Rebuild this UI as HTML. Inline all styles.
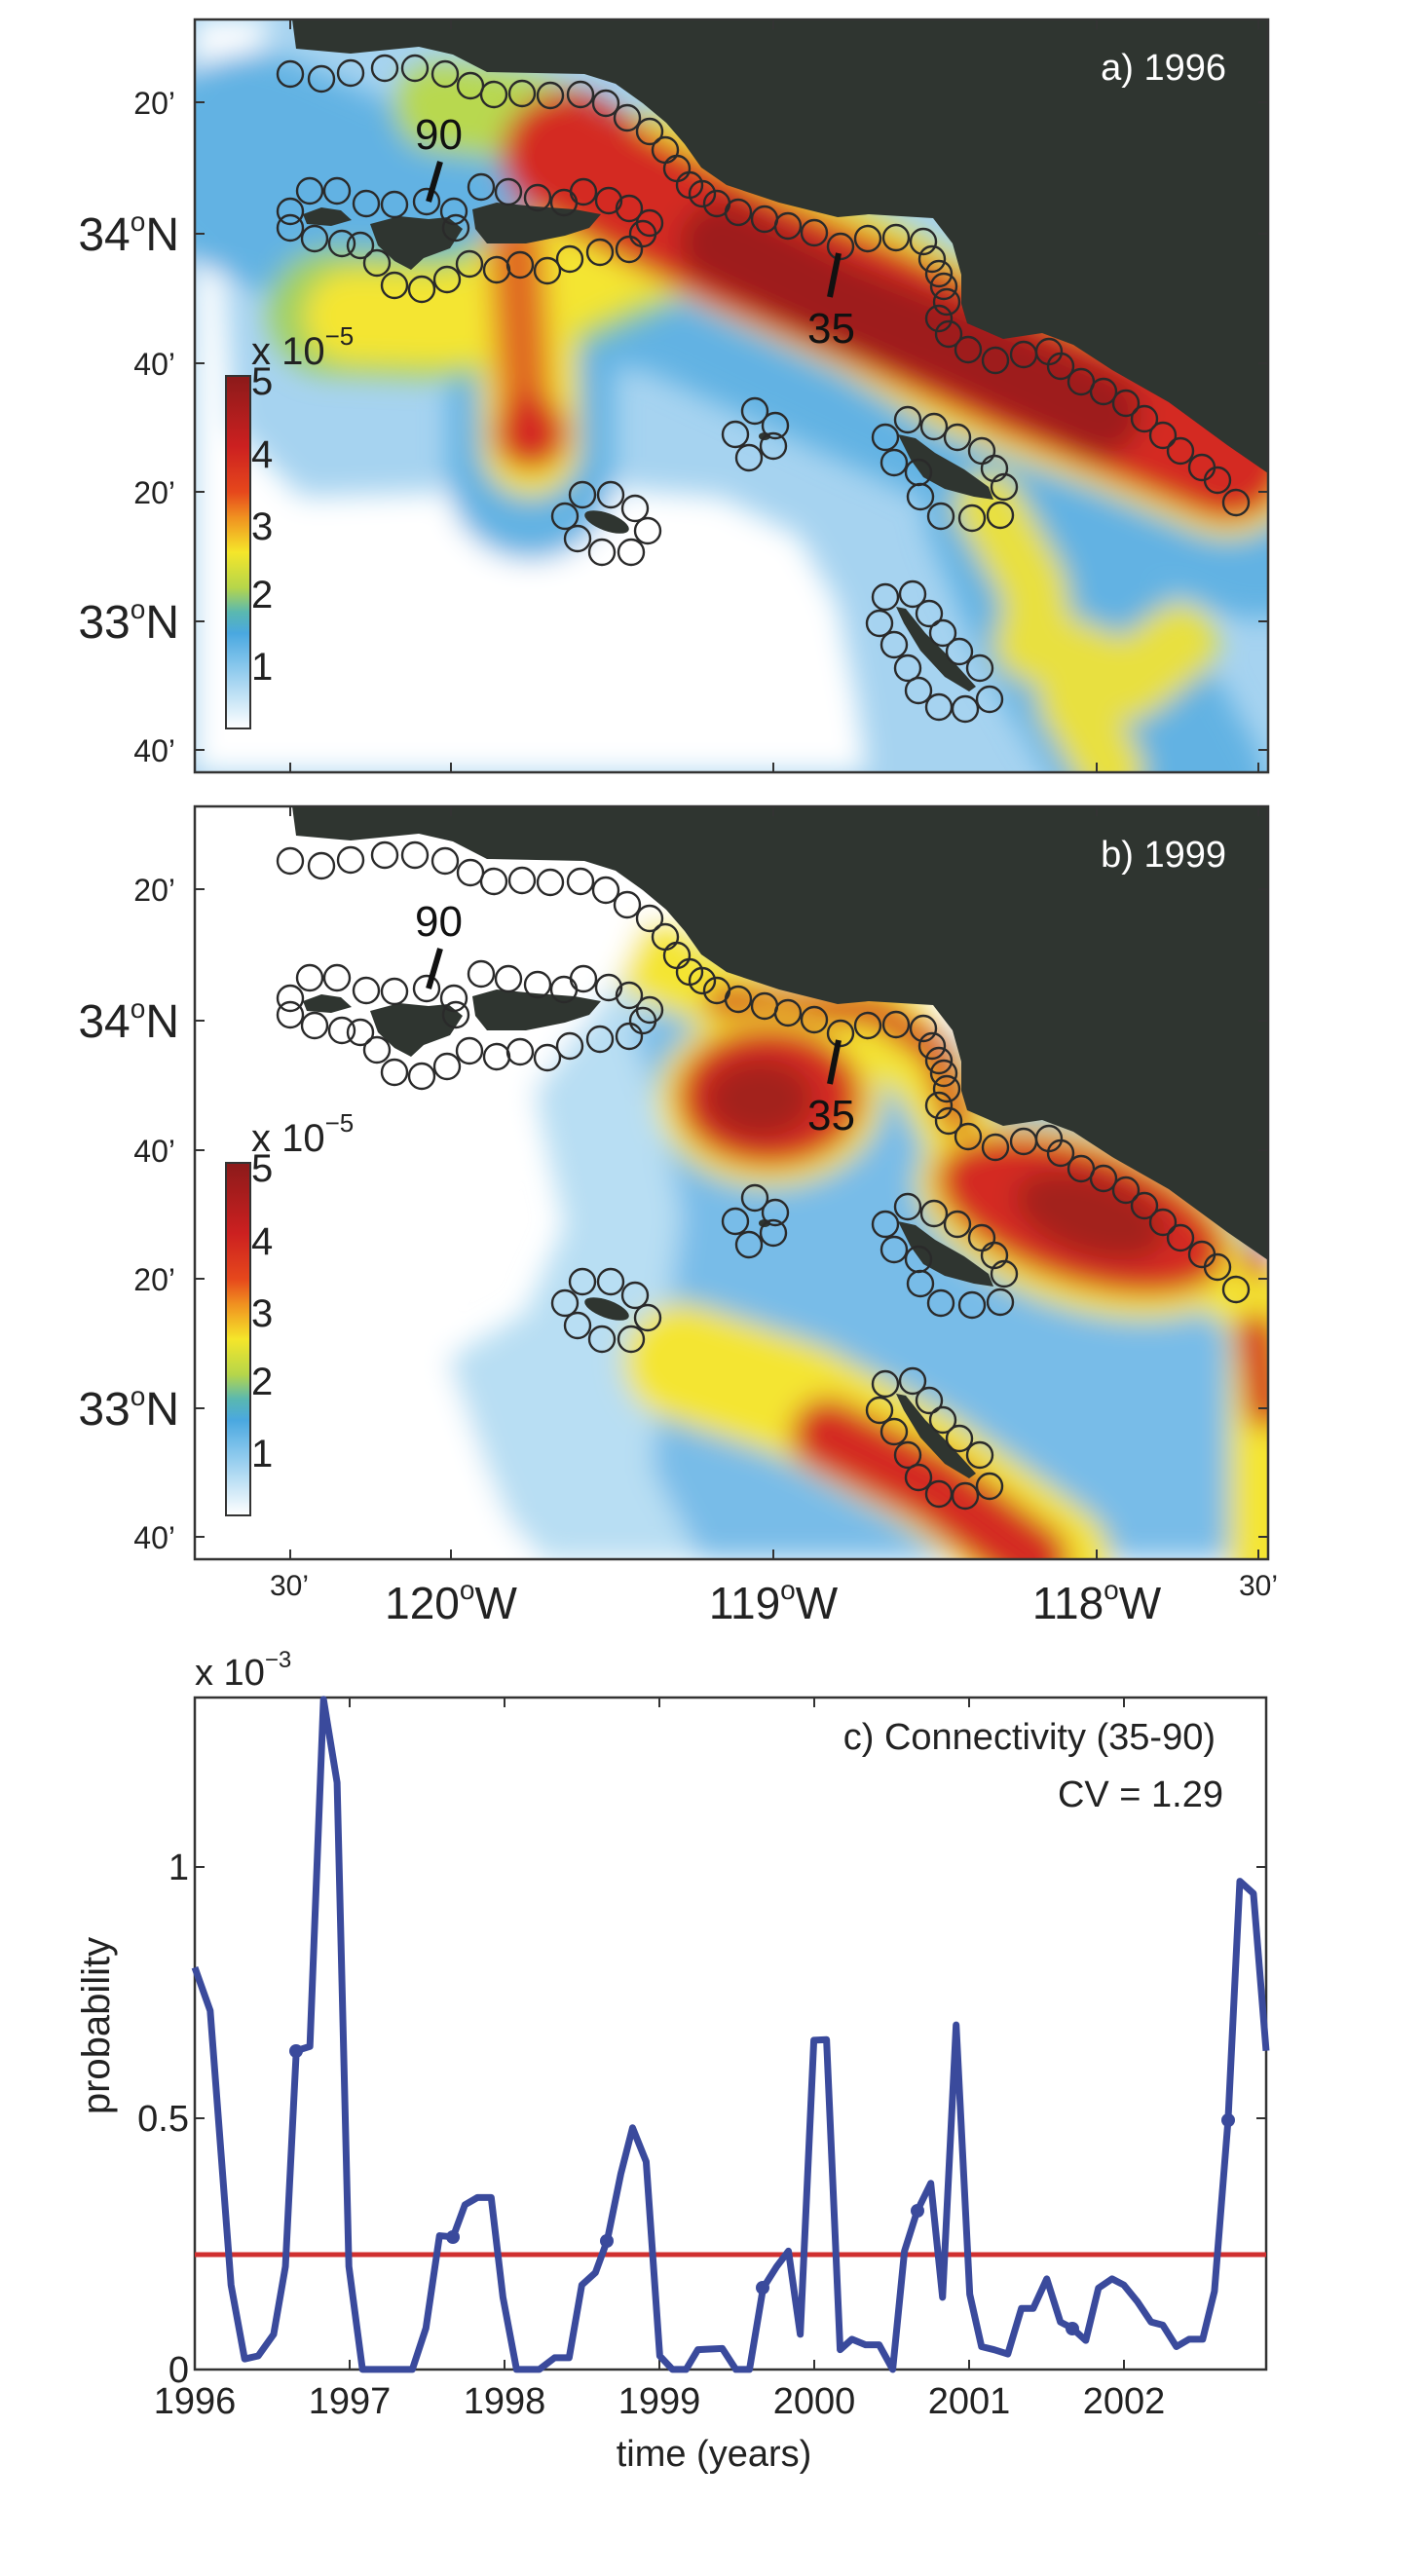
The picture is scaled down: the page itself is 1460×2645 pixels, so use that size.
<!DOCTYPE html>
<html><head><meta charset="utf-8"><style>
html,body{margin:0;padding:0;background:#fff;}
svg{display:block;}
text{font-family:"Liberation Sans",sans-serif;}
</style></head><body>
<svg width="1460" height="2645" viewBox="0 0 1460 2645" xmlns="http://www.w3.org/2000/svg">
<defs>
<clipPath id="pc"><rect x="0" y="0" width="1102" height="773"/></clipPath>
<filter id="bl" x="-20%" y="-20%" width="140%" height="140%"><feGaussianBlur stdDeviation="14"/></filter>
<linearGradient id="cb" x1="0" y1="0" x2="0" y2="1">
<stop offset="0" stop-color="#8b1a1a"/><stop offset="0.2" stop-color="#cc2020"/>
<stop offset="0.33" stop-color="#e6481c"/><stop offset="0.4" stop-color="#f09020"/>
<stop offset="0.5" stop-color="#f5e62a"/><stop offset="0.6" stop-color="#b6d64a"/>
<stop offset="0.67" stop-color="#5ab8b0"/><stop offset="0.73" stop-color="#4aa8e0"/>
<stop offset="0.82" stop-color="#86c6ec"/><stop offset="1" stop-color="#ffffff"/>
</linearGradient>
<g id="land">
<polygon fill="#2f3530" points="70,0 100,0 104,30 160,35 230,28 265,36 300,54 400,56 432,66 460,86 484,106 503,128 520,152 546,170 600,188 660,203 692,200 758,204 778,230 787,262 787,292 793,312 830,328 870,322 902,334 942,360 1000,393 1060,437 1102,466 1102,0"/>
<polygon fill="#2f3530" points="111,200 130,193 150,196 161,206 140,212 115,210"/>
<polygon fill="#2f3530" points="180,210 210,202 240,205 260,203 275,215 262,235 235,245 222,257 205,248 188,232"/>
<polygon fill="#2f3530" points="285,195 310,188 350,192 390,195 417,200 405,214 380,222 340,230 300,230 288,215"/>
<ellipse fill="#2f3530" cx="585" cy="428" rx="6" ry="4"/>
<ellipse fill="#2f3530" cx="423" cy="516" rx="24" ry="9" transform="rotate(20 423 516)"/>
<polygon fill="#2f3530" points="722,426 740,430 760,445 790,462 815,480 820,493 800,490 770,482 748,470 735,452"/>
<polygon fill="#2f3530" points="720,603 730,605 750,630 775,655 802,685 795,690 770,675 745,648 728,620"/>
</g>
<g id="circ" fill="none" stroke="#2a2a2a" stroke-width="2.4">
<circle cx="98" cy="56" r="13"/><circle cx="130" cy="61" r="13"/><circle cx="160" cy="55" r="13"/><circle cx="195" cy="50" r="13"/><circle cx="226" cy="50" r="13"/><circle cx="257" cy="56" r="13"/><circle cx="283" cy="68" r="13"/><circle cx="307" cy="77" r="13"/><circle cx="336" cy="76" r="13"/><circle cx="365" cy="78" r="13"/><circle cx="396" cy="77" r="13"/><circle cx="422" cy="86" r="13"/><circle cx="444" cy="101" r="13"/><circle cx="467" cy="115" r="13"/><circle cx="483" cy="134" r="13"/><circle cx="495" cy="153" r="13"/><circle cx="508" cy="170" r="13"/><circle cx="521" cy="179" r="13"/><circle cx="536" cy="189" r="13"/><circle cx="558" cy="198" r="13"/><circle cx="585" cy="205" r="13"/><circle cx="609" cy="212" r="13"/><circle cx="636" cy="219" r="13"/><circle cx="663" cy="233" r="13"/><circle cx="691" cy="225" r="13"/><circle cx="720" cy="224" r="13"/><circle cx="748" cy="228" r="13"/><circle cx="757" cy="246" r="13"/><circle cx="764" cy="261" r="13"/><circle cx="769" cy="274" r="13"/><circle cx="772" cy="290" r="13"/><circle cx="764" cy="307" r="13"/><circle cx="774" cy="323" r="13"/><circle cx="794" cy="339" r="13"/><circle cx="822" cy="350" r="13"/><circle cx="851" cy="344" r="13"/><circle cx="877" cy="341" r="13"/><circle cx="889" cy="356" r="13"/><circle cx="910" cy="372" r="13"/><circle cx="933" cy="382" r="13"/><circle cx="956" cy="394" r="13"/><circle cx="975" cy="410" r="13"/><circle cx="994" cy="427" r="13"/><circle cx="1012" cy="443" r="13"/><circle cx="1034" cy="460" r="13"/><circle cx="1050" cy="473" r="13"/><circle cx="1069" cy="496" r="13"/>
<circle cx="118" cy="176" r="13"/><circle cx="146" cy="176" r="13"/><circle cx="176" cy="189" r="13"/><circle cx="205" cy="190" r="13"/><circle cx="238" cy="187" r="13"/><circle cx="266" cy="197" r="13"/><circle cx="294" cy="172" r="13"/><circle cx="322" cy="177" r="13"/><circle cx="352" cy="183" r="13"/><circle cx="379" cy="188" r="13"/><circle cx="399" cy="177" r="13"/><circle cx="425" cy="186" r="13"/><circle cx="446" cy="194" r="13"/><circle cx="467" cy="209" r="13"/><circle cx="98" cy="197" r="13"/><circle cx="98" cy="214" r="13"/><circle cx="123" cy="225" r="13"/><circle cx="151" cy="230" r="13"/><circle cx="170" cy="232" r="13"/><circle cx="187" cy="250" r="13"/><circle cx="205" cy="273" r="13"/><circle cx="233" cy="277" r="13"/><circle cx="259" cy="267" r="13"/><circle cx="282" cy="251" r="13"/><circle cx="310" cy="257" r="13"/><circle cx="334" cy="252" r="13"/><circle cx="362" cy="258" r="13"/><circle cx="385" cy="246" r="13"/><circle cx="416" cy="239" r="13"/><circle cx="446" cy="236" r="13"/><circle cx="460" cy="220" r="13"/><circle cx="268" cy="214" r="13"/>
<circle cx="575" cy="402" r="13"/><circle cx="555" cy="426" r="13"/><circle cx="596" cy="417" r="13"/><circle cx="594" cy="438" r="13"/><circle cx="569" cy="450" r="13"/>
<circle cx="398" cy="488" r="13"/><circle cx="427" cy="488" r="13"/><circle cx="452" cy="502" r="13"/><circle cx="465" cy="525" r="13"/><circle cx="448" cy="547" r="13"/><circle cx="418" cy="547" r="13"/><circle cx="393" cy="533" r="13"/><circle cx="380" cy="510" r="13"/>
<circle cx="709" cy="429" r="13"/><circle cx="732" cy="411" r="13"/><circle cx="759" cy="418" r="13"/><circle cx="783" cy="429" r="13"/><circle cx="808" cy="443" r="13"/><circle cx="821" cy="461" r="13"/><circle cx="831" cy="480" r="13"/><circle cx="827" cy="509" r="13"/><circle cx="798" cy="512" r="13"/><circle cx="766" cy="510" r="13"/><circle cx="745" cy="490" r="13"/><circle cx="743" cy="465" r="13"/><circle cx="718" cy="455" r="13"/>
<circle cx="709" cy="593" r="13"/><circle cx="737" cy="590" r="13"/><circle cx="703" cy="620" r="13"/><circle cx="754" cy="610" r="13"/><circle cx="718" cy="642" r="13"/><circle cx="768" cy="630" r="13"/><circle cx="732" cy="666" r="13"/><circle cx="785" cy="649" r="13"/><circle cx="743" cy="689" r="13"/><circle cx="806" cy="666" r="13"/><circle cx="764" cy="706" r="13"/><circle cx="791" cy="708" r="13"/><circle cx="816" cy="698" r="13"/>
</g>
<g id="frame">
<rect x="0" y="0" width="1102" height="773" fill="none" stroke="#333" stroke-width="2.5"/>
<g stroke="#333" stroke-width="2">
<line x1="98" y1="0" x2="98" y2="10"/><line x1="263" y1="0" x2="263" y2="10"/><line x1="594" y1="0" x2="594" y2="10"/><line x1="926" y1="0" x2="926" y2="10"/><line x1="1092" y1="0" x2="1092" y2="10"/>
<line x1="98" y1="773" x2="98" y2="763"/><line x1="263" y1="773" x2="263" y2="763"/><line x1="594" y1="773" x2="594" y2="763"/><line x1="926" y1="773" x2="926" y2="763"/><line x1="1092" y1="773" x2="1092" y2="763"/>
<line x1="0" y1="85" x2="10" y2="85"/><line x1="0" y1="220" x2="10" y2="220"/><line x1="0" y1="353" x2="10" y2="353"/><line x1="0" y1="485" x2="10" y2="485"/><line x1="0" y1="618" x2="10" y2="618"/><line x1="0" y1="750" x2="10" y2="750"/>
<line x1="1102" y1="85" x2="1092" y2="85"/><line x1="1102" y1="220" x2="1092" y2="220"/><line x1="1102" y1="353" x2="1092" y2="353"/><line x1="1102" y1="485" x2="1092" y2="485"/><line x1="1102" y1="618" x2="1092" y2="618"/><line x1="1102" y1="750" x2="1092" y2="750"/>
</g>
</g>
<g id="lat" fill="#222">
<text x="180" y="117" font-size="32" text-anchor="end">20’</text>
<text x="184" y="257" font-size="48" text-anchor="end">34<tspan font-size="28" dy="-20">o</tspan><tspan dy="20">N</tspan></text>
<text x="180" y="385" font-size="32" text-anchor="end">40’</text>
<text x="180" y="517" font-size="32" text-anchor="end">20’</text>
<text x="184" y="655" font-size="48" text-anchor="end">33<tspan font-size="28" dy="-20">o</tspan><tspan dy="20">N</tspan></text>
<text x="180" y="782" font-size="32" text-anchor="end">40’</text>
</g>
<g id="cbar">
<rect x="232" y="386" width="25" height="362" fill="url(#cb)" stroke="#333" stroke-width="2"/>
<g font-size="40" fill="#222">
<text x="258" y="405">5</text><text x="258" y="480">4</text><text x="258" y="554">3</text><text x="258" y="624">2</text><text x="258" y="698">1</text>
<text x="258" y="374">x 10<tspan font-size="26" dy="-20">−5</tspan></text>
</g>
</g>
</defs>

<!-- Panel a -->
<g transform="translate(200,20)">
<g clip-path="url(#pc)">
<rect width="1102" height="773" fill="#a6d3f0"/>
<g filter="url(#bl)">
<polygon fill="#ffffff" points="0,230 30,260 40,420 110,490 250,485 330,480 420,480 540,490 620,530 660,600 680,700 690,773 0,773"/>
<polygon fill="#ffffff" points="0,0 80,0 60,40 0,70"/>
<polygon fill="#d8ecf8" points="0,80 40,120 40,230 0,240"/>
<g fill="none" stroke-linecap="round" stroke-linejoin="round">
<path d="M60,150 L200,210 L350,225 L500,250 L650,320 L800,390 L950,440 L1090,500" stroke="#62b2e3" stroke-width="230"/>
<path d="M345,260 L345,470" stroke="#62b2e3" stroke-width="170"/>
<path d="M850,500 L900,620 L960,720 L1000,790" stroke="#62b2e3" stroke-width="200"/>
<path d="M140,300 L260,305 L360,280 L450,240" stroke="#9fd060" stroke-width="130"/>
<path d="M250,90 L330,100 L380,120" stroke="#b8d850" stroke-width="90"/>
<path d="M160,305 L260,308 L360,282 L450,240 L560,230 L700,295 L800,352 L950,405 L1060,452" stroke="#f4e530" stroke-width="95"/>
<path d="M470,180 L560,225 L700,290 L800,350 L950,405 L1060,452" stroke="#f4e530" stroke-width="160"/>
<path d="M340,250 L345,440" stroke="#f4e530" stroke-width="100"/>
<path d="M815,500 L860,580 L870,650" stroke="#e8e040" stroke-width="70"/>
<path d="M860,640 L960,680 L1010,640" stroke="#e8e040" stroke-width="80"/>
<path d="M900,700 L940,770" stroke="#e8e040" stroke-width="70"/>
<path d="M380,140 L450,180 L560,235 L700,295 L850,365 L1000,425 L1060,450" stroke="#d42a20" stroke-width="130"/>
<path d="M330,230 L340,410" stroke="#e06a22" stroke-width="55"/>
<path d="M540,230 L660,290 L800,345 L930,405" stroke="#9e1c1c" stroke-width="85"/>
</g>
<circle cx="345" cy="425" r="38" fill="#d42a20"/>
</g>
<use href="#land"/>
</g>
<use href="#circ"/>
<use href="#frame"/>
<text x="1059" y="62" font-size="38" fill="#fff" text-anchor="end">a) 1996</text>
<text x="226" y="133" font-size="44" fill="#111">90</text>
<line x1="252" y1="146" x2="240" y2="187" stroke="#111" stroke-width="6"/>
<text x="629" y="332" font-size="44" fill="#111">35</text>
<line x1="661" y1="240" x2="652" y2="285" stroke="#111" stroke-width="6"/>
</g>
<use href="#lat"/>
<use href="#cbar"/>

<!-- Panel b -->
<g transform="translate(200,828)">
<g clip-path="url(#pc)">
<rect width="1102" height="773" fill="#ffffff"/>
<g filter="url(#bl)">
<polygon fill="#b8def3" points="330,230 420,160 480,130 560,130 1102,380 1102,773 360,773 290,700 255,570 340,520 380,430 350,300"/>
<polygon fill="#78bce8" points="450,230 520,170 700,210 1102,420 1102,773 520,773 470,680 480,560 500,420 480,320"/>
<g fill="none" stroke-linecap="round" stroke-linejoin="round">
<path d="M470,160 L600,215 L700,215 L760,280 L800,360 L900,390 L1000,430 L1102,520 L1102,773" stroke="#f4e530" stroke-width="80"/>
<path d="M500,570 L620,610 L750,680 L880,773" stroke="#f4e530" stroke-width="120"/>
<path d="M650,645 L760,700 L860,773" stroke="#d42a20" stroke-width="75"/>
<path d="M540,200 L700,210 L760,250 L790,340 L900,380 L1000,420 L1090,470" stroke="#d42a20" stroke-width="30"/>
<path d="M1090,540 L1100,620" stroke="#d42a20" stroke-width="40"/>
</g>
<ellipse cx="590" cy="300" rx="115" ry="90" fill="#f4e530"/>
<ellipse cx="590" cy="298" rx="95" ry="72" fill="#d42a20"/>
<ellipse cx="580" cy="300" rx="55" ry="40" fill="#a3201f"/>
<ellipse cx="910" cy="425" rx="175" ry="90" fill="#f4e530" transform="rotate(18 910 425)"/>
<ellipse cx="910" cy="420" rx="155" ry="70" fill="#d42a20" transform="rotate(18 910 420)"/>
<ellipse cx="920" cy="420" rx="80" ry="40" fill="#a3201f" transform="rotate(18 920 420)"/>
<polygon fill="#ffffff" points="0,0 100,0 100,60 250,40 400,60 470,100 440,170 350,290 300,380 260,480 150,560 0,560"/>
<polygon fill="#ffffff" points="0,560 250,540 300,680 340,773 0,773"/>
</g>
<use href="#land"/>
</g>
<use href="#circ"/>
<use href="#frame"/>
<text x="1059" y="62" font-size="38" fill="#fff" text-anchor="end">b) 1999</text>
<text x="226" y="133" font-size="44" fill="#111">90</text>
<line x1="252" y1="146" x2="240" y2="187" stroke="#111" stroke-width="6"/>
<text x="629" y="332" font-size="44" fill="#111">35</text>
<line x1="661" y1="240" x2="652" y2="285" stroke="#111" stroke-width="6"/>
</g>
<use href="#lat" transform="translate(0,808)"/>
<use href="#cbar" transform="translate(0,808)"/>
<g fill="#222">
<text x="297" y="1638" font-size="30" text-anchor="middle">30’</text>
<text x="463" y="1662" font-size="46" text-anchor="middle">120<tspan font-size="28" dy="-20">o</tspan><tspan dy="20">W</tspan></text>
<text x="794" y="1662" font-size="46" text-anchor="middle">119<tspan font-size="28" dy="-20">o</tspan><tspan dy="20">W</tspan></text>
<text x="1126" y="1662" font-size="46" text-anchor="middle">118<tspan font-size="28" dy="-20">o</tspan><tspan dy="20">W</tspan></text>
<text x="1292" y="1638" font-size="30" text-anchor="middle">30’</text>
</g>

<!-- Panel c -->
<rect x="200" y="1743" width="1100" height="690" fill="#fff" stroke="#333" stroke-width="2.5"/>
<g stroke="#333" stroke-width="2">
<line x1="359" y1="2433" x2="359" y2="2423"/><line x1="518" y1="2433" x2="518" y2="2423"/><line x1="677" y1="2433" x2="677" y2="2423"/><line x1="836" y1="2433" x2="836" y2="2423"/><line x1="995" y1="2433" x2="995" y2="2423"/><line x1="1154" y1="2433" x2="1154" y2="2423"/>
<line x1="359" y1="1743" x2="359" y2="1753"/><line x1="518" y1="1743" x2="518" y2="1753"/><line x1="677" y1="1743" x2="677" y2="1753"/><line x1="836" y1="1743" x2="836" y2="1753"/><line x1="995" y1="1743" x2="995" y2="1753"/><line x1="1154" y1="1743" x2="1154" y2="1753"/>
<line x1="200" y1="2175" x2="210" y2="2175"/><line x1="200" y1="1917" x2="210" y2="1917"/>
<line x1="1300" y1="2175" x2="1290" y2="2175"/><line x1="1300" y1="1917" x2="1290" y2="1917"/>
</g>
<line x1="200" y1="2315" x2="1300" y2="2315" stroke="#d03030" stroke-width="5"/>
<g transform="translate(-0.08,1649.9) scale(0.9306,0.633)">
<polyline fill="none" stroke="#3a4a9c" stroke-width="7" stroke-linejoin="round" vector-effect="non-scaling-stroke" points="215,585 232,655 255,1100 270,1220 285,1215 302,1180 315,1070 327,720 342,713 357,150 372,285 385,1070 400,1237 455,1237 470,1170 485,1020 500,1022 513,970 527,958 542,958 555,1120 570,1237 595,1237 612,1218 628,1218 642,1100 657,1080 670,1028 685,920 698,845 713,900 728,1215 742,1237 757,1237 770,1205 797,1203 812,1237 827,1237 842,1105 857,1070 870,1045 883,1180 898,703 912,702 927,1205 940,1188 955,1197 970,1197 985,1237 998,1045 1012,980 1027,935 1040,1120 1055,678 1070,1115 1083,1200 1097,1205 1112,1212 1127,1138 1140,1138 1155,1090 1170,1160 1183,1170 1198,1190 1212,1105 1227,1090 1240,1100 1255,1127 1270,1160 1283,1165 1298,1200 1312,1188 1327,1188 1340,1110 1355,833 1368,445 1383,465 1397,720"/>
</g>
<g fill="#3a4a9c">
<circle cx="304" cy="2106" r="7"/><circle cx="465" cy="2297" r="7"/><circle cx="623" cy="2301" r="7"/><circle cx="783" cy="2349" r="7"/><circle cx="942" cy="2270" r="7"/><circle cx="1101" cy="2391" r="7"/><circle cx="1261" cy="2177" r="7"/>
</g>
<g fill="#222" font-size="38">
<text x="194" y="2446" text-anchor="end">0</text>
<text x="194" y="2188" text-anchor="end">0.5</text>
<text x="194" y="1930" text-anchor="end">1</text>
<text x="200" y="2478" text-anchor="middle">1996</text>
<text x="359" y="2478" text-anchor="middle">1997</text>
<text x="518" y="2478" text-anchor="middle">1998</text>
<text x="677" y="2478" text-anchor="middle">1999</text>
<text x="836" y="2478" text-anchor="middle">2000</text>
<text x="995" y="2478" text-anchor="middle">2001</text>
<text x="1154" y="2478" text-anchor="middle">2002</text>
<text x="733" y="2532" text-anchor="middle">time (years)</text>
<text x="200" y="1730">x 10<tspan font-size="24" dy="-18">−3</tspan></text>
<text x="1248" y="1796" text-anchor="end">c) Connectivity (35-90)</text>
<text x="1256" y="1855" text-anchor="end">CV = 1.29</text>
<text transform="translate(112,2080) rotate(-90)" text-anchor="middle" font-size="40">probability</text>
</g>
</svg>
</body></html>
